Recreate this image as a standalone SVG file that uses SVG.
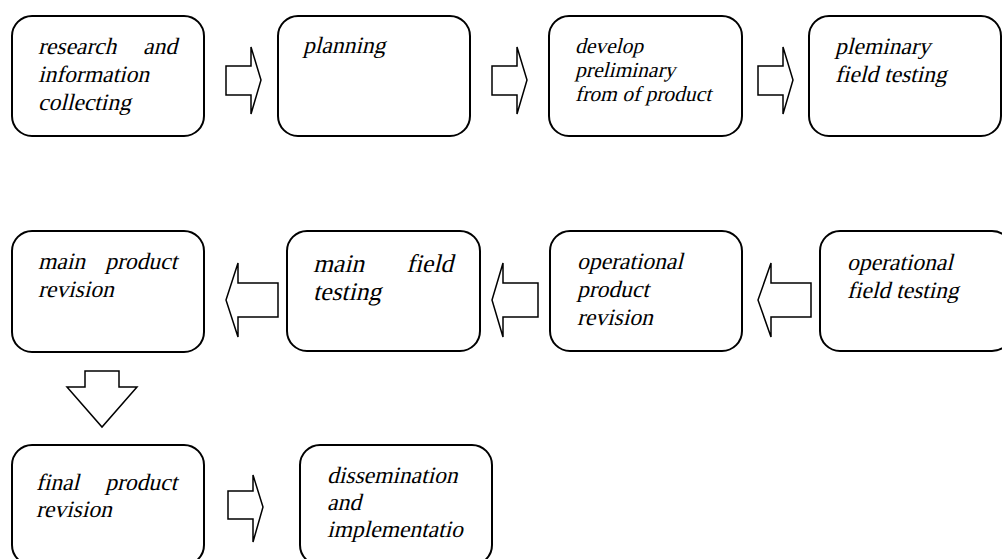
<svg xmlns="http://www.w3.org/2000/svg" width="1002" height="559" viewBox="0 0 1002 559">
<style>
.box{fill:#fff;stroke:#000;stroke-width:2}
.arr{fill:#fff;stroke:#000;stroke-width:1.5;stroke-linejoin:miter}
text{font-family:'Liberation Serif','Times New Roman',serif;font-size:23.5px;fill:#000}
.sm{font-size:21.5px}
.lg{font-size:25.5px}
.e{text-anchor:end}
</style>
<rect width="1002" height="559" fill="#fff"/>
<g id="n1"><rect class="box" x="12" y="16" width="192" height="120" rx="20"/>
<text transform="translate(38 54) skewX(-14)">research</text><text class="e" transform="translate(177 54) skewX(-14)">and</text>
<text transform="translate(38 82) skewX(-14)">information</text><text transform="translate(38 110) skewX(-14)">collecting</text></g>
<g id="n2"><rect class="box" x="278" y="16" width="192" height="120" rx="20"/>
<text transform="translate(303 53) skewX(-14)">planning</text></g>
<g id="n3"><rect class="box" x="549" y="16" width="193" height="120" rx="20"/>
<text class="sm" transform="translate(575 53) skewX(-14)">develop</text><text class="sm" transform="translate(575 77) skewX(-14)">preliminary</text><text class="sm" transform="translate(575 101) skewX(-14)">from of product</text></g>
<g id="n4"><rect class="box" x="809" y="16" width="192" height="120" rx="20"/>
<text transform="translate(835 54) skewX(-14)">pleminary</text><text transform="translate(835 82) skewX(-14)">field testing</text></g>
<g id="n5"><rect class="box" x="12" y="231" width="192" height="121" rx="20"/>
<text transform="translate(38 269) skewX(-14)">main</text><text class="e" transform="translate(177 269) skewX(-14)">product</text>
<text transform="translate(38 297) skewX(-14)">revision</text></g>
<g id="n6"><rect class="box" x="287" y="231" width="193" height="120" rx="20"/>
<text class="lg" transform="translate(313 272) skewX(-14)">main</text><text class="lg e" transform="translate(453 272) skewX(-14)">field</text>
<text class="lg" transform="translate(313 300) skewX(-14)">testing</text></g>
<g id="n7"><rect class="box" x="550" y="231" width="192" height="120" rx="20"/>
<text transform="translate(577 269) skewX(-14)">operational</text><text transform="translate(577 297) skewX(-14)">product</text><text transform="translate(577 325) skewX(-14)">revision</text></g>
<g id="n8"><rect class="box" x="820" y="231" width="192" height="120" rx="20"/>
<text transform="translate(847 270) skewX(-14)">operational</text><text transform="translate(847 298) skewX(-14)">field testing</text></g>
<g id="n9"><rect class="box" x="12" y="445" width="192" height="120" rx="20"/>
<text transform="translate(36 490) skewX(-14)">final</text><text class="e" transform="translate(177 490) skewX(-14)">product</text>
<text transform="translate(36 517) skewX(-14)">revision</text></g>
<g id="n10"><rect class="box" x="300" y="445" width="192" height="120" rx="20"/>
<text transform="translate(327 483) skewX(-14)">dissemination</text><text transform="translate(327 510) skewX(-14)">and</text><text transform="translate(327 537) skewX(-14)">implementatio</text></g>
<g id="connectors">
<polygon class="arr" points="226,66 251,66 251,47 261,80 251,114 251,95 226,95"/>
<polygon class="arr" points="492,66 517,66 517,47 527,80 517,114 517,95 492,95"/>
<polygon class="arr" points="758,66 783,66 783,47 793,80 783,114 783,95 758,95"/>
<polygon class="arr" points="278,283 238,283 238,263 226,300 238,337 238,317 278,317"/>
<polygon class="arr" points="538,283 503,283 503,263 492,300 503,337 503,317 538,317"/>
<polygon class="arr" points="811,283 771,283 771,263 758,300 771,337 771,317 811,317"/>
<polygon class="arr" points="85,371 119,371 119,387 137,387 102,427 67,387 85,387"/>
<polygon class="arr" points="228,491 253,491 253,475 263,507 253,542 253,519 228,519"/>
</g>
</svg>
